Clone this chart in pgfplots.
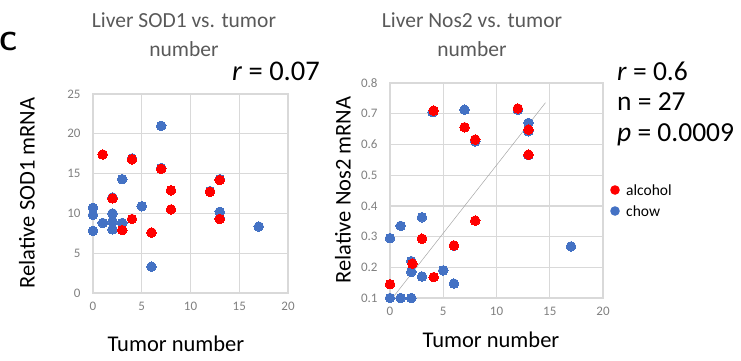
\documentclass[border=0pt]{standalone}
\usepackage{fontspec}
\setmainfont{Carlito}
\usepackage{pgfplots}
\pgfplotsset{compat=1.18}
\definecolor{cred}{RGB}{255,0,0}
\definecolor{cblue}{RGB}{68,114,196}
\definecolor{cgrid}{RGB}{217,217,217}
\definecolor{ctick}{RGB}{128,128,128}
\definecolor{ctitle}{RGB}{89,89,89}
\pgfplotsset{common/.style={
  scale only axis, clip mode=individual,
  axis line style={cgrid, line width=1.3pt},
  grid=major, grid style={cgrid, line width=1.3pt},
  major tick length=0pt,
  ticklabel style={font=\fontsize{13}{15}\selectfont, text=ctick},
  xticklabel style={yshift=-6pt},
  yticklabel style={xshift=-9pt},
  /pgf/number format/assume math mode=true,
},
bdot/.style={only marks, color=cblue, mark=*, mark size=4.8pt, mark options={draw=cblue, line width=0pt, fill=cblue}},
rdot/.style={only marks, color=cred, mark=*, mark size=4.8pt, mark options={draw=cred, line width=0pt, fill=cred}},
}
\begin{document}
\begin{tikzpicture}
\useasboundingbox (0pt,0pt) rectangle (741pt,-360pt);
% ---------- left chart ----------
\begin{axis}[common, at={(93pt,-293pt)}, anchor=south west,
  width=195pt, height=199pt,
  xmin=0, xmax=20, ymin=0, ymax=25,
  xtick={0,5,10,15,20}, ytick={0,5,10,15,20,25}]
\addplot[bdot] coordinates {
 (7,21.0) (3,14.3) (0,10.7) (0,9.8) (0,7.8) (1,8.8) (2,10.0) (2,9.0) (2,8.0)
 (3,8.8) (5,10.9) (6,3.3) (13,14.3) (13,10.2) (13,9.4) (17,8.35)
 (2,12.0) (4,16.9) (7,15.7) (12,12.8)
};
\addplot[rdot] coordinates {
 (1,17.4) (4,16.8) (7,15.6) (2,11.9) (8,12.9) (8,10.5) (4,9.3) (3,7.9)
 (6,7.6) (12,12.7) (13,14.2) (13,9.3)
};
\end{axis}
% ---------- right chart ----------
\begin{axis}[common, at={(390pt,-298pt)}, anchor=south west,
  width=213pt, height=215pt,
  xmin=0, xmax=20, ymin=0.1, ymax=0.8,
  xtick={0,5,10,15,20}, ytick={0.1,0.2,0.3,0.4,0.5,0.6,0.7,0.8},
  yticklabel style={/pgf/number format/.cd, fixed, fixed zerofill, precision=1}]
\addplot[color=gray!70, line width=0.5pt] coordinates {(0.23,0.1) (14.6,0.736)};
\addplot[bdot] coordinates {
 (0,0.295) (0,0.1) (1,0.335) (1,0.1) (2,0.1) (2,0.22) (2,0.185) (3,0.363)
 (3,0.17) (5,0.19) (6,0.147) (7,0.713) (12,0.713) (13,0.67) (13,0.643)
 (13,0.565) (8,0.61) (4,0.705) (6,0.27) (17,0.268)
};
\addplot[rdot] coordinates {
 (0,0.145) (1.1,0.097) (2.1,0.212) (3,0.293) (4.1,0.168) (6,0.271)
 (4.1,0.71) (7,0.656) (8,0.616) (8,0.352) (12,0.717) (13,0.648) (13,0.567)
};
\end{axis}
% ---------- texts ----------
\node[font=\fontsize{26}{30}\selectfont\sffamily\bfseries, anchor=west, inner sep=0pt] at (-1pt,-41pt) {C};
\node[font=\fontsize{21.5}{29}\selectfont, text=ctitle, align=center] at (184pt,-35pt) {Liver SOD1 vs. tumor\\number};
\node[font=\fontsize{21.5}{29}\selectfont, text=ctitle, align=center] at (472pt,-35pt) {Liver Nos2 vs. tumor\\number};
\node[font=\fontsize{28.5}{32}\selectfont, anchor=west, inner sep=0pt] at (232pt,-71pt) {\textit{r} = 0.07};
\node[font=\fontsize{22.5}{27}\selectfont, rotate=90] at (27pt,-193pt) {Relative SOD1 mRNA};
\node[font=\fontsize{22.5}{27}\selectfont, rotate=90] at (343pt,-190pt) {Relative Nos2 mRNA};
\node[font=\fontsize{22.5}{27}\selectfont] at (176pt,-344pt) {Tumor number};
\node[font=\fontsize{22.5}{27}\selectfont] at (491pt,-340pt) {Tumor number};
\node[font=\fontsize{27.5}{30}\selectfont, anchor=west, inner sep=0pt] at (617pt,-71pt) {\textit{r} = 0.6};
\node[font=\fontsize{27.5}{30}\selectfont, anchor=west, inner sep=0pt] at (617pt,-102pt) {n = 27};
\node[font=\fontsize{27.5}{30}\selectfont, anchor=west, inner sep=0pt] at (617pt,-135pt) {\textit{p} = 0.0009};
\fill[cred] (615pt,-190pt) circle (4.8pt);
\fill[cblue] (615pt,-211pt) circle (4.8pt);
\node[font=\fontsize{15.5}{18}\selectfont, anchor=west, inner sep=0pt] at (626pt,-190pt) {alcohol};
\node[font=\fontsize{15.5}{18}\selectfont, anchor=west, inner sep=0pt] at (626pt,-211pt) {chow};
\end{tikzpicture}
\end{document}
